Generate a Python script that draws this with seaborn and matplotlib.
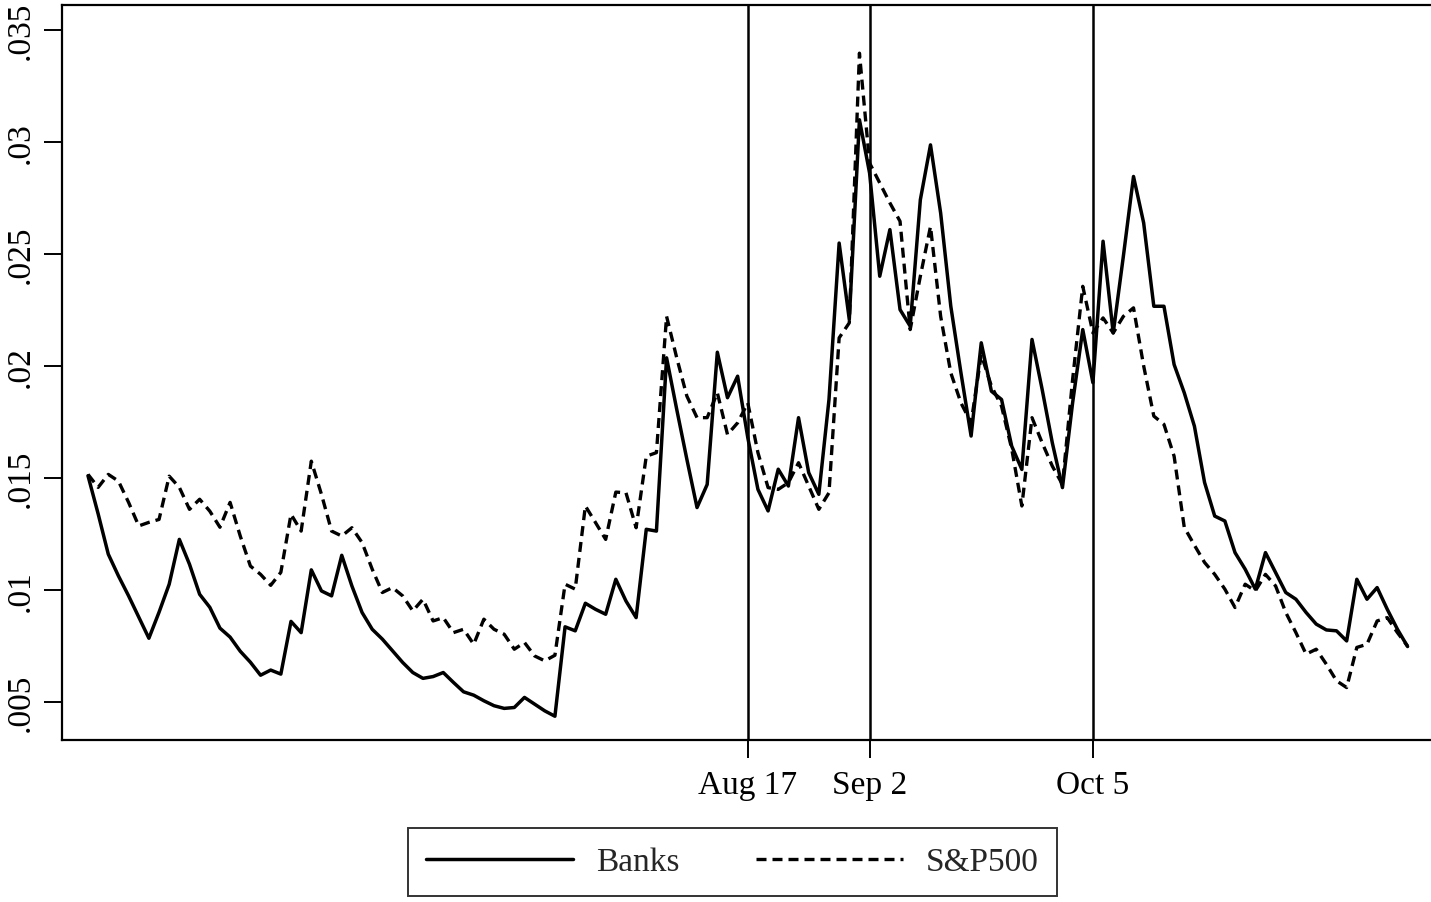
import numpy as np
import pandas as pd
import matplotlib
matplotlib.use("Agg")
import matplotlib.pyplot as plt
import seaborn as sns

# daily volatility, trading days; index 0 = first day shown
banks = [
    .0151, .0134, .0116, .01063, .00974, .00879, .00785, .00901, .01026, .01226,
    .01115, .00981, .00923, .0083, .0079, .00727, .00678, .0062, .00643, .00625,
    .0086, .0081, .0109, .00996, .00974, .01155, .01018, .009, .00825, .00781,
    .00729, .00677, .00632, .00606, .00614, .00632, .00588, .00546, .00531, .00506,
    .00484, .00472, .00476, .00521, .00491, .00461, .00437, .00836, .00818, .00941,
    .00914, .00892, .01048, .00951, .00877, .01271, .01263, .02036, .01806, .01583,
    .01368, .01471, .02061, .01858, .01954, .0168, .01449, .01353, .01539, .01464,
    .01769, .01524, .01427, .0185, .02548, .02207, .03098, .0286, .024, .02608,
    .02251, .02177, .02741, .02986, .02682, .02266, .01969, .01687, .02103, .01887,
    .0185, .01642, .01538, .02118, .01895, .01657, .01457, .01835, .02162, .01925,
    .02556, .02147, .02489, .02845, .02638, .02266, .02266, .02006, .0188, .01731,
    .0148, .0133, .01308, .01167, .01093, .01004, .01167, .01078, .00989, .00959,
    .009, .00848, .00822, .00818, .00773, .01048, .00959, .01011, .00914, .00825,
    .00748,
]
sp500 = [
    .01516, .01458, .01516, .01486, .01391, .01286, .01302, .01315, .01508, .01458,
    .0136, .01405, .01352, .0128, .01391, .01241, .01107, .0107, .01021, .01079,
    .01338, .01263, .01575, .01427, .01263, .01241, .01278, .01212, .01093, .00989,
    .01011, .00974, .00907, .00959, .00862, .00877, .0081, .00825, .00758, .0087,
    .00825, .00803, .00736, .00766, .00706, .00684, .00709, .01026, .01004, .01375,
    .01301, .01226, .01437, .01434, .01278, .01597, .01613, .02221, .02036, .01865,
    .01769, .01769, .0188, .01694, .01746, .01835, .01613, .01457, .01449, .01479,
    .01568, .01464, .0136, .01434, .02125, .02192, .03395, .02905, .02816, .02727,
    .02645, .02162, .024, .02622, .02221, .01969, .01835, .01746, .0205, .0191,
    .0182, .0163, .01375, .01769, .01657, .01553, .01471, .01939, .02355, .02147,
    .02214, .02147, .02221, .02259, .02, .01776, .01739, .01597, .0128, .0120,
    .01123, .0107, .01004, .00922, .01026, .00996, .0107, .01018, .009, .0081,
    .00714, .00736, .00669, .00595, .00565, .00744, .00758, .00862, .00877, .0081,
    .0075,
]
event_days = [65, 77, 99]
event_labels = ["Aug 17", "Sep 2", "Oct 5"]
y_ticks = [.005, .01, .015, .02, .025, .03, .035]
y_labels = [".005", ".01", ".015", ".02", ".025", ".03", ".035"]

df = pd.DataFrame({"day": np.arange(len(banks)), "Banks": banks, "S&P500": sp500})

sns.set_style("white")
plt.rcParams["font.family"] = ["Liberation Serif", "DejaVu Serif"]

fig = plt.figure(figsize=(14.31, 9.03), dpi=100)
# right spine sits just outside the canvas, as in the original export
ax = fig.add_axes([62 / 1431, 1 - 741 / 903, (1436 - 62) / 1431, (741 - 6) / 903])

sns.lineplot(data=df, x="day", y="Banks", color="black", linewidth=2.5, ax=ax, label="Banks")
sns.lineplot(data=df, x="day", y="S&P500", color="black", linewidth=2.4,
             linestyle=(0, (3.0, 1.8)), ax=ax, label="S&P500")

for d in event_days:
    ax.axvline(d, color="black", linewidth=1.8)

ax.set_xlim(-2.56, 132.8)
ax.set_ylim(.00331, .0361)
ax.set_xticks(event_days)
ax.set_xticklabels(event_labels)
ax.set_yticks(y_ticks)
ax.set_yticklabels(y_labels, rotation=90, va="center")
ax.set_xlabel("")
ax.set_ylabel("")
ax.tick_params(axis="both", labelsize=24, length=13, width=1.4, color="black",
               direction="out", labelcolor="black", left=True, bottom=True)
ax.tick_params(axis="y", pad=6)
ax.tick_params(axis="x", pad=8)
for s in ax.spines.values():
    s.set_color("black")
    s.set_linewidth(1.6)

ax.get_legend().remove()
handles, labels = ax.get_legend_handles_labels()
leg = fig.legend(handles, labels, ncol=2, loc="center", bbox_to_anchor=(732.5 / 1431, 1 - 863 / 903),
                 fontsize=24, frameon=True, fancybox=False, handlelength=4.4,
                 handletextpad=0.7, columnspacing=2.3, borderpad=0.55)
leg.get_frame().set_edgecolor("black")
leg.get_frame().set_linewidth(1.4)

fig.savefig("out.png", dpi=100)
